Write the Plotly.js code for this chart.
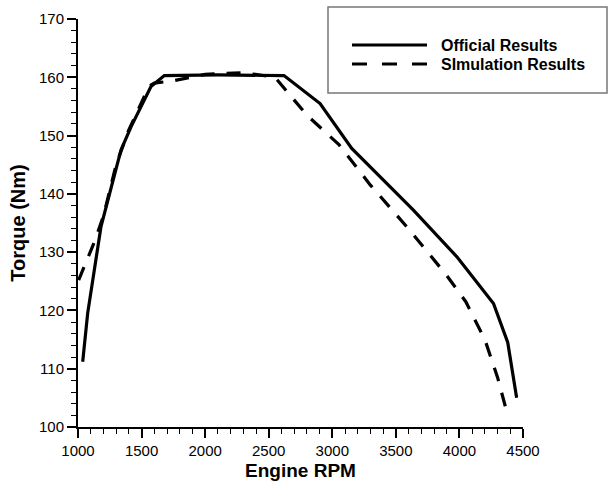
<!DOCTYPE html>
<html>
<head>
<meta charset="utf-8">
<script src="https://cdn.plot.ly/plotly-3.0.1.min.js"></script>
<style>html,body{margin:0;padding:0;background:#fff;}#chart{width:611px;height:483px;}</style>
</head>
<body>
<div id="chart"></div>
<script>
// Official (solid) curve
const rpmOfficial    = [1037, 1076, 1181, 1247, 1338, 1417, 1509, 1574, 1679, 2100, 2620, 2904, 3153, 3402, 3638, 3980, 4268, 4380, 4450];
const torqueOfficial = [111.2, 119.5, 134.4, 140.1, 147.5, 151.5, 155.5, 158.4, 160.3, 160.4, 160.3, 155.5, 147.8, 142.4, 137.2, 129.2, 121.2, 114.5, 105.0];
// Simulation (dashed) curve
const rpmSimulation    = [1005, 1130, 1200, 1300, 1400, 1500, 1560, 1600, 1750, 2000, 2300, 2550, 2800, 3050, 3300, 3600, 3900, 4050, 4200, 4300, 4380];
const torqueSimulation = [125.2, 131.8, 136.2, 145.0, 151.0, 155.5, 158.5, 159.0, 159.4, 160.5, 160.8, 160.0, 153.5, 148.5, 141.5, 134.0, 126.0, 121.5, 115.0, 108.5, 102.0];

const seriesNames = ["Official Results", "SImulation Results"];
const xTitle = "Engine RPM";
const yTitle = "Torque (Nm)";
const xRange = [1000, 4500];
const yRange = [100, 170];

const FONT = "Arial, 'Liberation Sans', sans-serif";

const traces = [
  {x: rpmOfficial, y: torqueOfficial, mode: "lines", name: seriesNames[0],
   line: {color: "#000", width: 3.2}, showlegend: false},
  {x: rpmSimulation, y: torqueSimulation, mode: "lines", name: seriesNames[1],
   line: {color: "#000", width: 3.2, dash: "14px,12px"}, showlegend: false}
];

// Legend drawn in paper coordinates
const L = 78, R = 523, T = 19, B = 427;
const px = v => (v - L) / (R - L);
const py = v => (B - v) / (B - T);

const layout = {
  width: 611, height: 483,
  margin: {l: L, r: 611 - R, t: T, b: 483 - B, pad: 0},
  paper_bgcolor: "#fff", plot_bgcolor: "#fff",
  showlegend: false,
  font: {family: FONT, color: "#000", size: 15},
  xaxis: {
    range: xRange, dtick: 500, tick0: 1000, showgrid: false, zeroline: false,
    showline: true, linecolor: "#000", linewidth: 2,
    ticks: "outside", ticklen: 9, tickwidth: 2, tickcolor: "#000",
    minor: {dtick: 100, ticks: "outside", ticklen: 5, tickwidth: 1, tickcolor: "#000"},
    tickfont: {family: FONT, size: 15, color: "#000"},
    title: {text: xTitle, font: {family: FONT, size: 19, weight: "bold", color: "#000"}, standoff: 6}
  },
  yaxis: {
    range: yRange, dtick: 10, tick0: 100, showgrid: false, zeroline: false,
    showline: true, linecolor: "#000", linewidth: 2,
    ticks: "outside", ticklen: 9, tickwidth: 2, tickcolor: "#000",
    minor: {dtick: 2, ticks: "outside", ticklen: 5, tickwidth: 1, tickcolor: "#000"},
    tickfont: {family: FONT, size: 15, color: "#000"},
    title: {text: yTitle, font: {family: FONT, size: 20, weight: "bold", color: "#000"}, standoff: 8}
  },
  shapes: [
    {type: "rect", xref: "paper", yref: "paper", x0: px(328), x1: px(607), y0: py(93), y1: py(7),
     line: {color: "#777", width: 1.5}, fillcolor: "#fff", layer: "above"},
    {type: "line", xref: "paper", yref: "paper", x0: px(352), x1: px(427), y0: py(45), y1: py(45),
     line: {color: "#000", width: 3.2}},
    {type: "line", xref: "paper", yref: "paper", x0: px(352), x1: px(427), y0: py(64), y1: py(64),
     line: {color: "#000", width: 3.2, dash: "15px,15px"}}
  ],
  annotations: [
    {xref: "paper", yref: "paper", x: px(439), y: py(45), xanchor: "left", yanchor: "middle",
     text: seriesNames[0], showarrow: false, font: {family: FONT, size: 16, weight: "bold", color: "#000"}},
    {xref: "paper", yref: "paper", x: px(439), y: py(64), xanchor: "left", yanchor: "middle",
     text: seriesNames[1], showarrow: false, font: {family: FONT, size: 16, weight: "bold", color: "#000"}}
  ]
};

Plotly.newPlot("chart", traces, layout, {displayModeBar: false, staticPlot: true});
</script>
</body>
</html>
